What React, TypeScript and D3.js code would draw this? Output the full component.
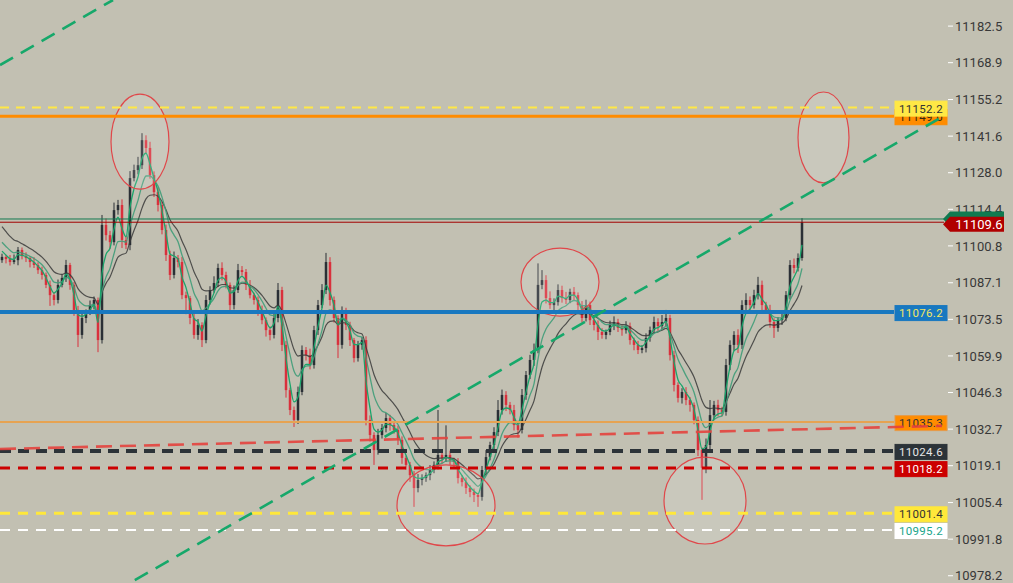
import React from 'react';
import * as d3 from 'd3';

// ---- data ----
const closes = [
  11096.7, 11095.9, 11094.8, 11095.5, 11099.3, 11097.0, 11096.3, 11094.8, 11093.7, 11091.8,
  11090.0, 11086.3, 11082.5, 11080.7, 11086.3, 11088.9, 11093.7, 11086.3, 11077.0, 11067.7,
  11074.0, 11076.2, 11078.8, 11080.7, 11065.8, 11108.6, 11104.8, 11102.2, 11114.1, 11116.0,
  11103.0, 11101.1, 11126.0, 11129.0, 11130.8, 11140.1, 11137.2, 11127.1, 11120.8, 11116.0,
  11106.7, 11097.4, 11090.0, 11096.3, 11094.8, 11082.5, 11081.4, 11074.0, 11067.7, 11071.4,
  11065.8, 11080.7, 11084.4, 11087.0, 11092.6, 11090.0, 11086.3, 11078.8, 11084.4, 11091.8,
  11091.1, 11086.3, 11082.5, 11080.7, 11077.0, 11073.2, 11069.5, 11067.7, 11074.0, 11084.4,
  11064.0, 11047.2, 11039.8, 11036.1, 11046.5, 11062.1, 11060.2, 11056.5, 11069.5, 11078.8,
  11084.4, 11094.8, 11080.7, 11074.0, 11064.0, 11076.2, 11071.4, 11065.8, 11059.1, 11064.0,
  11065.8, 11036.1, 11030.5, 11024.9, 11030.5, 11033.1, 11036.8, 11034.2, 11032.4, 11028.7,
  11022.0, 11019.4, 11015.6, 11010.8, 11013.8, 11014.5, 11015.6, 11017.5, 11019.4, 11023.1,
  11022.0, 11023.1, 11021.2, 11020.5, 11014.5, 11013.0, 11010.8, 11009.3, 11008.2, 11007.5,
  11017.5, 11022.3, 11026.8, 11031.6, 11039.8, 11045.4, 11041.7, 11039.8, 11034.2, 11032.4,
  11045.4, 11052.8, 11058.4, 11062.1, 11086.3, 11088.1, 11081.4, 11078.8, 11079.9, 11084.4,
  11081.4, 11080.7, 11083.7, 11082.5, 11078.8, 11074.0, 11078.8, 11073.2, 11071.4, 11068.8,
  11067.7, 11068.8, 11071.4, 11072.5, 11070.3, 11069.5, 11071.0, 11065.8, 11064.0, 11062.1,
  11062.8, 11066.6, 11069.5, 11072.5, 11071.0, 11072.5, 11074.0, 11060.2, 11049.1, 11044.3,
  11046.5, 11043.5, 11041.7, 11036.1, 11024.9, 11018.3, 11026.8, 11037.9, 11041.7, 11039.8,
  11039.1, 11056.5, 11064.0, 11067.7, 11064.0, 11078.8, 11080.7, 11078.8, 11082.5, 11086.3,
  11078.8, 11077.0, 11072.5, 11070.3, 11073.2, 11074.0, 11082.5, 11093.7, 11092.6, 11096.3,
  11109.6,
];
const upWick = [
  1.2, 0.8, 1.5, 2.1, 1.1, 0.9, 1.4, 0.7, 1.8, 1.0,
  1.3, 0.9, 1.6, 1.2, 2.0, 1.4, 1.9, 0.8, 1.1, 1.5,
  2.2, 1.0, 1.7, 1.3, 0.9, 3.7, 2.4, 1.6, 2.8, 1.9,
  2.1, 1.5, 2.6, 2.0, 3.1, 2.6, 1.8, 2.3, 1.4, 1.7,
  1.2, 2.0, 1.6, 2.4, 1.1, 1.9, 1.3, 0.8, 1.5, 2.2,
  1.0, 1.8, 1.4, 2.5, 1.6, 2.1, 1.2, 0.9, 1.7, 2.3,
  1.5, 1.1, 1.8, 0.9, 1.3, 1.6, 1.0, 1.4, 1.9, 2.6,
  1.2, 1.5, 0.9, 1.3, 2.0, 1.7, 1.1, 2.4, 1.6, 1.9,
  2.2, 3.4, 1.8, 1.3, 1.0, 2.1, 1.6, 1.2, 0.8, 1.5,
  1.1, 1.4, 1.7, 1.0, 2.3, 1.5, 1.9, 1.2, 0.9, 1.6,
  1.3, 0.8, 1.1, 1.5, 2.2, 1.4, 1.0, 1.8, 1.3, 16.7,
  1.2, 11.0, 1.6, 0.9, 1.4, 1.1, 1.7, 1.0, 1.3, 0.8,
  1.5, 2.6, 1.2, 1.8, 3.7, 2.0, 1.4, 1.1, 1.9, 1.6,
  2.2, 1.5, 1.9, 2.4, 8.0, 3.7, 1.8, 2.5, 1.4, 2.1,
  1.6, 2.3, 1.2, 1.8, 1.0, 1.5, 2.0, 1.3, 1.1, 1.7,
  1.4, 0.9, 1.6, 2.1, 1.2, 1.0, 1.8, 1.3, 0.9, 1.5,
  1.1, 1.7, 1.3, 2.0, 1.4, 2.6, 3.0, 1.2, 1.6, 1.0,
  1.4, 1.8, 1.1, 0.9, 1.3, 1.0, 2.4, 5.6, 1.5, 1.9,
  1.2, 2.3, 1.7, 1.4, 2.1, 1.8, 2.5, 1.3, 2.0, 3.0,
  1.6, 1.2, 1.9, 1.4, 1.1, 2.2, 1.5, 1.8, 2.4, 1.7,
  1.5,
];
const dnWick = [
  1.0, 1.6, 1.3, 0.8, 1.9, 1.2, 1.5, 2.0, 1.1, 1.4,
  1.7, 1.2, 4.0, 2.0, 1.3, 0.9, 1.5, 1.8, 2.2, 4.5,
  1.4, 1.9, 1.1, 1.6, 4.5, 1.3, 2.0, 2.5, 1.2, 1.7,
  3.0, 1.5, 1.9, 1.2, 1.6, 1.4, 2.1, 1.3, 1.8, 2.4,
  1.6, 2.2, 1.9, 1.3, 2.0, 1.5, 6.0, 2.3, 1.4, 1.8,
  2.6, 1.2, 1.7, 1.0, 1.5, 2.0, 1.3, 2.8, 1.6, 1.1,
  1.4, 1.9, 1.2, 1.7, 2.2, 1.5, 2.4, 2.0, 1.3, 1.6,
  2.3, 2.8, 1.9, 2.6, 1.5, 1.2, 2.0, 1.6, 1.3, 1.8,
  1.1, 1.5, 2.1, 1.7, 4.9, 1.4, 1.9, 2.2, 1.6, 1.3,
  1.8, 2.0, 2.4, 5.5, 1.7, 1.3, 1.6, 2.1, 1.4, 1.9,
  2.2, 1.8, 2.5, 7.0, 1.6, 2.0, 1.4, 1.9, 1.2, 1.7,
  2.1, 1.5, 1.8, 2.4, 2.0, 1.6, 2.2, 1.9, 2.6, 3.7,
  1.4, 1.8, 1.2, 2.0, 1.5, 1.7, 2.3, 1.6, 2.0, 2.9,
  1.3, 1.8, 1.5, 2.2, 1.2, 1.6, 2.0, 1.4, 1.9, 1.3,
  1.7, 1.5, 1.2, 1.9, 2.1, 1.6, 1.3, 1.8, 2.0, 3.0,
  1.4, 1.6, 1.2, 1.9, 1.5, 2.1, 1.3, 1.7, 2.0, 1.5,
  1.2, 1.6, 1.4, 1.1, 1.8, 1.3, 1.5, 2.0, 2.4, 1.7,
  2.1, 1.9, 2.5, 1.6, 2.2, 11.9, 2.0, 1.5, 1.8, 2.3,
  1.6, 1.4, 1.9, 2.2, 3.0, 1.5, 1.8, 2.0, 1.3, 1.6,
  1.9, 1.5, 2.1, 3.7, 1.4, 1.8, 1.2, 1.6, 2.0, 1.3,
  1.0,
];
const firstOpen = 11095.5;
const maSeedFast = 11101;
const maSeedMid = 11104;
const maSeedSlow = 11110;

const tickLabels = [
  '11182.5', '11168.9', '11155.2', '11141.6', '11128.0', '11114.4', '11100.8', '11087.1',
  '11073.5', '11059.9', '11046.3', '11032.7', '11019.1', '11005.4', '10991.8', '10978.2',
];

const levelPrices = [11152.2, 11149.0, 11076.2, 11035.3, 11024.6, 11018.2, 11001.4, 10995.2];
const levelLabels = ['11152.2', '11149.0', '11076.2', '11035.3', '11024.6', '11018.2', '11001.4', '10995.2'];

const askPrice = 11110.8;
const lastPrice = 11109.6;
const lastLabel = '11109.6';

// trendlines: [barIndex, price] pairs
const channelLower = [[28, 10972.1], [234.5, 11148.3]];
const channelUpper = [[-0.5, 11168.0], [27.75, 11192.2]];
const redTrend = [[-0.5, 11025.3], [235, 11033.9]];

// ellipses: [i1, i2, priceTop, priceBottom]
const ellipses = [
  [27.25, 41.75, 11157.2, 11121.9],
  [129.75, 149.25, 11100.0, 11074.7],
  [98.75, 123.25, 11019.4, 10989.3],
  [165.5, 186, 11022.3, 10990.0],
  [199, 211.75, 11158.0, 11124.2],
];

// ---- layout/styles ----
const W = 1013;
const H = 583;
const BG = '#c2c0b2';
const FONT = 'Roboto, "Noto Sans", sans-serif';

const levelStyles = [
  { line: '#ffe845', w: 2, dash: '9 7', box: '#ffe845', text: '#333333', border: '#ffe845' },
  { line: '#ff8c00', w: 3, dash: null, box: '#ff8c00', text: '#3a2a10', border: '#ff8c00' },
  { line: '#1878c0', w: 4, dash: null, box: '#1878c0', text: '#f2e566', border: '#1878c0' },
  { line: '#e6a352', w: 2, dash: null, box: '#ff8c00', text: '#333333', border: '#e59a4a' },
  { line: '#2c3338', w: 4, dash: '11 7', box: '#2c3338', text: '#e6e6e6', border: '#2c3338' },
  { line: '#cc0000', w: 3, dash: '10 8', box: '#cc0000', text: '#ffffff', border: '#cc0000' },
  { line: '#ffe83a', w: 3, dash: '10 8', box: '#ffe83a', text: '#333333', border: '#ffe83a' },
  { line: '#ffffff', w: 2, dash: '10 8', box: '#ffffff', text: '#19a58b', border: '#ffffff' },
];
// label drawing order (the 11152.2 box sits on top of the 11149.0 box)
const labelOrder = [1, 0, 2, 3, 4, 5, 6, 7];

function ema(values: number[], period: number, seed: number) {
  const a = 2 / (period + 1);
  const out: number[] = [];
  let prev = seed;
  for (const v of values) {
    prev = prev + a * (v - prev);
    out.push(prev);
  }
  return out;
}

export default function App() {
  const n = closes.length;
  const x = d3.scaleLinear().domain([0, n - 1]).range([2, 802]);
  const y = d3.scaleLinear().domain([10975.5, 11192.2]).range([H, 0]);

  const opens = closes.map((c, i) => (i === 0 ? firstOpen : closes[i - 1]));
  const candles = closes.map((c, i) => {
    const o = opens[i];
    return {
      i,
      o,
      c,
      h: Math.max(o, c) + upWick[i],
      l: Math.min(o, c) - dnWick[i],
    };
  });

  const fast = ema(closes, 3, maSeedFast);
  const mid = ema(closes, 7, maSeedMid);
  const slow = ema(closes, 12, maSeedSlow);
  const line = d3
    .line<number>()
    .x((_, i) => x(i))
    .y((d) => y(d))
    .curve(d3.curveMonotoneX);

  const plotRight = 894;
  const boxX = 895;
  const boxW = 52;
  const boxH = 15;

  const seg = (pts: number[][]) => ({ x1: x(pts[0][0]), y1: y(pts[0][1]), x2: x(pts[1][0]), y2: y(pts[1][1]) });

  const lastY = y(lastPrice) + 2;
  const askY = y(askPrice);
  const arrow = (cy: number) =>
    `M943,${cy} L950,${cy - 7.5} L1004,${cy - 7.5} L1004,${cy + 7.5} L950,${cy + 7.5} Z`;

  return (
    <div style={{ position: 'fixed', left: 0, top: 0, width: W, height: H }}>
      <svg width={W} height={H} style={{ display: 'block', fontFamily: FONT }}>
        <rect x={0} y={0} width={W} height={H} fill={BG} />

        {/* candles */}
        <g>
          {candles.map((d) => {
            const col = d.c >= d.o ? '#2a2f35' : '#d9303c';
            const top = y(Math.max(d.o, d.c));
            const bot = y(Math.min(d.o, d.c));
            return (
              <g key={d.i}>
                <line x1={x(d.i)} x2={x(d.i)} y1={y(d.h)} y2={y(d.l)} stroke={col} strokeWidth={1} />
                <rect x={x(d.i) - 1.25} y={top} width={2.5} height={Math.max(1, bot - top)} fill={col} />
              </g>
            );
          })}
        </g>

        {/* moving averages */}
        <path d={line(slow) || ''} fill="none" stroke="#3a3a3a" strokeWidth={1.2} opacity={0.85} />
        <path d={line(mid) || ''} fill="none" stroke="#3f9c78" strokeWidth={1.3} opacity={0.9} />
        <path d={line(fast) || ''} fill="none" stroke="#1aa56b" strokeWidth={1.3} />

        {/* ellipses */}
        {ellipses.map((e, k) => {
          const x1 = x(e[0]);
          const x2 = x(e[1]);
          const y1 = y(e[2]);
          const y2 = y(e[3]);
          return (
            <ellipse
              key={k}
              cx={(x1 + x2) / 2}
              cy={(y1 + y2) / 2}
              rx={(x2 - x1) / 2}
              ry={(y2 - y1) / 2}
              fill="rgba(255,255,255,0.13)"
              stroke="#e0474a"
              strokeWidth={1.2}
            />
          );
        })}

        {/* horizontal levels */}
        {levelPrices.map((p, k) => {
          const s = levelStyles[k];
          return (
            <line
              key={k}
              x1={0}
              x2={plotRight}
              y1={y(p)}
              y2={y(p)}
              stroke={s.line}
              strokeWidth={s.w}
              strokeDasharray={s.dash || undefined}
            />
          );
        })}

        {/* ask / last lines */}
        <line x1={0} x2={944} y1={askY} y2={askY} stroke="#127a50" strokeWidth={1} />
        <line x1={0} x2={944} y1={y(lastPrice)} y2={y(lastPrice)} stroke="#a30000" strokeWidth={1} />

        {/* price axis */}
        {tickLabels.map((t) => {
          const ty = y(+t);
          return (
            <g key={t}>
              <line x1={948} x2={953} y1={ty} y2={ty} stroke="#ffffff" strokeWidth={1} />
              <text x={955} y={ty} dy="0.36em" fontSize={13} fill="#383838">
                {t}
              </text>
            </g>
          );
        })}

        {/* level labels */}
        {labelOrder.map((k) => {
          const s = levelStyles[k];
          const cy = y(levelPrices[k]) + 1;
          return (
            <g key={k}>
              <rect x={boxX} y={cy - boxH / 2} width={boxW} height={boxH} fill={s.box} stroke={s.border} strokeWidth={1} />
              <text x={boxX + boxW / 2} y={cy} dy="0.36em" textAnchor="middle" fontSize={11.5} fill={s.text} letterSpacing={0.3}>
                {levelLabels[k]}
              </text>
            </g>
          );
        })}

        {/* ask / last labels */}
        <path d={arrow(askY)} fill="#0f7a50" />
        <path d={arrow(lastY)} fill="#b00000" />
        <text x={979} y={lastY} dy="0.36em" textAnchor="middle" fontSize={13} fill="#ffffff">
          {lastLabel}
        </text>

        {/* trendlines */}
        {[channelUpper, channelLower].map((pts, k) => {
          const s = seg(pts);
          return (
            <line key={k} {...s} stroke="#16a86a" strokeWidth={2.6} strokeDasharray="15 9" />
          );
        })}
        {(() => {
          const s = seg(redTrend);
          return <line {...s} stroke="#e5433e" strokeWidth={2.6} strokeDasharray="16 8" opacity={0.9} />;
        })()}
      </svg>
    </div>
  );
}
